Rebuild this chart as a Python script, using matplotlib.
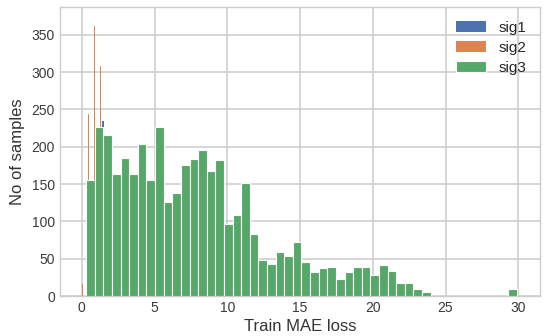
import numpy as np
import matplotlib
matplotlib.use('Agg')
import matplotlib.pyplot as plt

# sig3 histogram: 50 bins between 0.3 and 29.9
sig3_start = 0.3
sig3_width = 0.592
sig3_counts = [155, 226, 215, 164, 185, 164, 204, 155, 227, 126,
               138, 176, 183, 196, 167, 182, 96, 108, 151, 83,
               48, 43, 59, 53, 73, 46, 32, 37, 39, 23,
               32, 39, 39, 28, 42, 33, 17, 17, 9, 5,
               0, 0, 0, 0, 0, 0, 0, 0, 0, 9]

# sig1 / sig2 are very narrow, only a few spikes stick out above sig3
sig1_x = [1.47]
sig1_counts = [235]
sig2_x = [0.05, 0.48, 0.88, 1.29]
sig2_counts = [16, 244, 361, 308]

plt.style.use('seaborn-v0_8-whitegrid')
plt.rcParams['font.family'] = ['Liberation Sans', 'DejaVu Sans']

fig = plt.figure(figsize=(5.5, 3.36), dpi=100)
ax = fig.add_axes([0.109, 0.119, 0.873, 0.86])

blue = '#4C72B0'
orange = '#DD8452'
green = '#55A868'

ax.bar(sig1_x, sig1_counts, width=0.1, color=blue, label='sig1', linewidth=0, zorder=2)
ax.bar(sig2_x, sig2_counts, width=0.1, color=orange, label='sig2', linewidth=0, zorder=2)

edges = sig3_start + sig3_width * np.arange(len(sig3_counts))
ax.bar(edges, sig3_counts, width=sig3_width, align='edge', color=green,
       edgecolor='white', linewidth=0.8, label='sig3', zorder=3)

ax.set_xlim(-1.5, 31.5)
ax.set_ylim(0, 387)
ax.set_xticks([0, 5, 10, 15, 20, 25, 30])
ax.set_yticks([0, 50, 100, 150, 200, 250, 300, 350])
ax.tick_params(labelsize=10, colors='#3a3a3a')
ax.set_xlabel('Train MAE loss', fontsize=12, color='#333333', labelpad=3)
ax.set_ylabel('No of samples', fontsize=12, color='#333333', labelpad=5)
ax.grid(True, color='#cccccc', linewidth=1.1)
ax.set_axisbelow(True)
for s in ax.spines.values():
    s.set_color('#cccccc')

ax.legend(loc='upper right', fontsize=11, frameon=False, handlelength=2.0,
          labelspacing=0.4)

plt.savefig('out.png', dpi=100)
